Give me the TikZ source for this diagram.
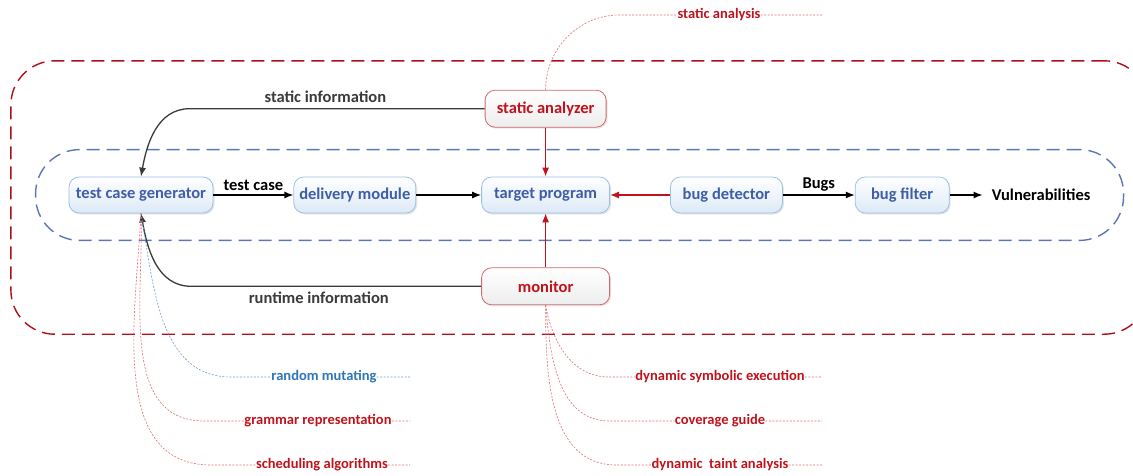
\documentclass[tikz,border=0pt]{standalone}
\usepackage{fontspec}
\setmainfont{Carlito}
\usetikzlibrary{arrows.meta,positioning,calc,fit,shadows}
\definecolor{blue}{HTML}{3F5EA8}
\definecolor{boxline}{HTML}{9CC0E4}
\definecolor{lightblue}{HTML}{DCE9F6}
\definecolor{red}{HTML}{C0121C}
\definecolor{redline}{HTML}{D2686C}
\definecolor{notered}{HTML}{E06A70}
\definecolor{noteblue}{HTML}{2E75B6}
\definecolor{darkgray}{HTML}{3A3A3A}

\begin{document}
\begin{tikzpicture}[x=1pt,y=-1pt,>={Latex[length=9pt,width=7pt]},
  font=\bfseries\fontsize{16.5}{19}\selectfont,
  box/.style={draw=boxline,rounded corners=10pt,top color=white,bottom color=lightblue,
    text=blue,minimum height=36pt,line width=0.8pt,
    drop shadow={shadow xshift=1.5pt,shadow yshift=-1.5pt,opacity=0.2}},
  redbox/.style={box,draw=redline,bottom color=black!7,text=red,minimum height=37pt},
  flow/.style={->,line width=1.3pt,black},
  redflow/.style={->,line width=1.3pt,red},
  backflow/.style={->,line width=1.3pt,darkgray},
  note/.style={draw=notered,dash pattern=on 2pt off 1.5pt,line width=0.6pt},
  notetext/.style={text=red,inner xsep=0pt,font=\bfseries\fontsize{14.5}{17}\selectfont},
  frame/.style={dash pattern=on 13pt off 7pt,line width=1.4pt,rounded corners=44pt}]
\useasboundingbox (0,0) rectangle (1133,475);

% main row
\node[box,minimum width=144pt] (tcg) at (141,195) {test case generator};
\node[box,minimum width=122pt,right=80pt of tcg] (dm) {delivery module};
\node[box,minimum width=128pt,right=65pt of dm] (tp) {target program};
\node[box,minimum width=112pt,right=60pt of tp] (bd) {bug detector};
\node[box,minimum width=94pt,right=72pt of bd] (bf) {bug filter};
\node[inner sep=0pt,right=42pt of bf] (vul) {Vulnerabilities};
\node[redbox,minimum width=121pt,above=49pt of tp] (sa) {static analyzer};
\node[redbox,minimum width=128pt,below=54pt of tp] (mon) {monitor};

% frames
\coordinate (redright) at (1122,195);
\node[frame,draw=blue!85!white,fit=(tcg)(vul),inner xsep=33pt,inner ysep=27pt] (core) {};
\node[frame,draw=red!90!black,fit=(sa)(mon)(core)(redright),inner xsep=24pt,inner ysep=29pt] (fuzzer) {};

% connectors
\draw[flow] (tcg) -- node[above] {test case} (dm);
\draw[flow] (dm) -- (tp);
\draw[redflow] (sa) -- (tp);
\draw[redflow] (mon) -- (tp);
\draw[redflow] (bd) -- (tp);
\draw[flow] (bd) -- node[above] {Bugs} (bf);
\draw[flow,shorten >=9pt] (bf) -- (vul);
\draw[backflow] (sa.west) -- ++(-295,0) node[pos=0.54,above=2pt] {static information}
  to[out=180,in=80] (tcg.north);
\draw[backflow] (mon.west) -- ++(-290,0) node[pos=0.56,below=2pt] {runtime information}
  to[out=180,in=-80] (tcg.south);

% annotations
\coordinate (leftend) at (410,0);
\coordinate (rightend) at (822,0);
\node[notetext] (san) at (719,15) {static analysis};
\node[notetext,text=noteblue] (rm) at (324,377) {random mutating};
\node[notetext] (gr) at (318,421) {grammar representation};
\node[notetext] (sch) at (322,465) {scheduling algorithms};
\node[notetext] (dse) at (720,377) {dynamic symbolic execution};
\node[notetext] (cg) at (720,421) {coverage guide};
\node[notetext] (dta) at (720,465) {dynamic\ \ taint analysis};

\draw[note] (sa.north) to[out=90,in=180] ([xshift=-58pt]san.west) -- (san.west)
  (san.east) -- (san.east -| rightend);
\draw[note,draw=noteblue!70] (tcg.south) to[out=-80,in=180] ([xshift=-40pt]rm.west) -- (rm.west)
  (rm.east) -- (rm.east -| leftend);
\draw[note] (tcg.south) to[out=-88,in=180] ([xshift=-40pt]gr.west) -- (gr.west)
  (gr.east) -- (gr.east -| leftend);
\draw[note] (tcg.south) to[out=-93,in=180] ([xshift=-45pt]sch.west) -- (sch.west)
  (sch.east) -- (sch.east -| leftend);
\draw[note] (mon.south) to[out=-80,in=180] ([xshift=-26pt]dse.west) -- (dse.west)
  (dse.east) -- (dse.east -| rightend);
\draw[note] (mon.south) to[out=-85,in=180] ([xshift=-65pt]cg.west) -- (cg.west)
  (cg.east) -- (cg.east -| rightend);
\draw[note] (mon.south) to[out=-90,in=180] ([xshift=-35pt]dta.west) -- (dta.west)
  (dta.east) -- (dta.east -| rightend);
\end{tikzpicture}
\end{document}
